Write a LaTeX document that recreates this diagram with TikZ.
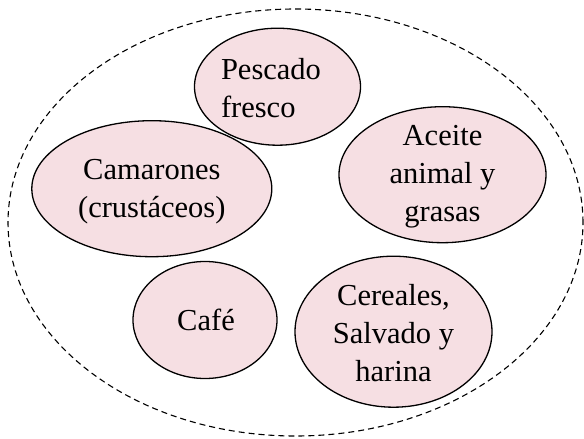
\documentclass[tikz,border=0pt]{standalone}
\usepackage{fontspec}
\setmainfont{Liberation Serif}
\usetikzlibrary{shapes.geometric}
\definecolor{pinkfill}{RGB}{246,223,227}
\begin{document}
\begin{tikzpicture}[x=1pt,y=-1pt,
  blob/.style={draw=black, line width=1.3pt, fill=pinkfill, ellipse, inner sep=0pt},
  lbl/.style={inner sep=0pt, align=center, font=\fontsize{30.5}{38}\selectfont},
  outerline/.style={draw=black, ellipse, line width=1.1pt, dash pattern=on 6pt off 4pt, inner sep=0pt}
]
\useasboundingbox (0,0) rectangle (584,439);
\node[outerline, minimum width=575pt, minimum height=427pt] (outer) at (295.5,222.5) {};

\node[blob, minimum width=166pt, minimum height=117pt] (pescado) at (277.5,86.7) {};
\node[lbl, align=left] (pescadot) at (271,88) {Pescado\\fresco};

\node[blob, minimum width=207pt, minimum height=136pt] (aceite) at (442.5,174.7) {};
\node[lbl] (aceitet) at (aceite.center) [yshift=-2pt] {Aceite\\animal y\\grasas};

\node[blob, minimum width=240pt, minimum height=136pt] (camarones) at (151.8,188.7) {};
\node[lbl] (camaronest) at (151.8,192) {Camarones\\(crustáceos)};

\node[blob, minimum width=144pt, minimum height=117pt] (cafe) at (205,320) {};
\node[lbl] (cafet) at (206,320) {Café};

\node[blob, minimum width=197pt, minimum height=151pt] (cereales) at (393.5,331.7) {};
\node[lbl] (cerealest) at (393.5,333) {Cereales,\\Salvado y\\harina};
\end{tikzpicture}
\end{document}
